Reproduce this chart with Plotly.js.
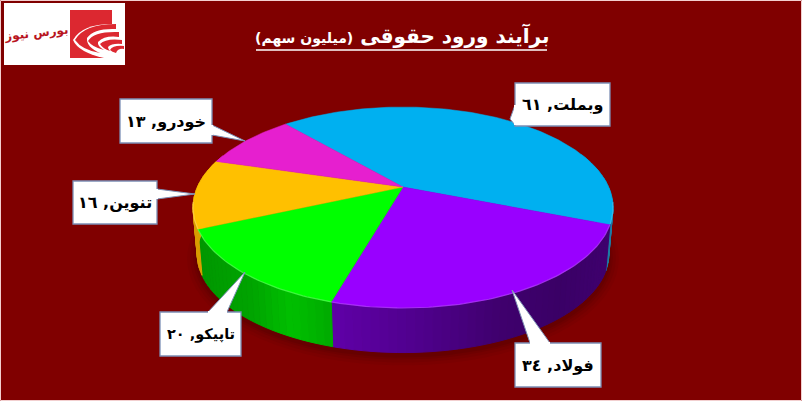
<!DOCTYPE html>
<html><head><meta charset="utf-8">
<script src="https://cdn.plot.ly/plotly-3.0.1.min.js"></script>
<style>html,body{margin:0;padding:0;background:#800000;overflow:hidden}</style>
</head><body><div id="chart" style="width:802px;height:401px"></div>
<script>
// Data
const names = ['وبملت','فولاد','تاپیکو','تنوین','خودرو'];
const values = [61,34,20,16,13];
const titleMain = 'برآیند ورود حقوقی';
const titleUnit = '(میلیون سهم)';
const logoText = 'بورس نیوز';

// Style
const topColors = ['#00b0f0','#9900ff','#00ff00','#ffc000','#e61fcf'];
const rimColors = ['#50c8f5','#b94dff','#66ff66','#ffd966','#f070e0'];
const labelSizes = [16,16,14.5,16,16];
const wallStops = [
  [[560,'#1a6a8c'],[620,'#1f7fa8']],
  [[335,'#5f00a6'],[420,'#4f008c'],[500,'#3f006e'],[560,'#3a0066'],[620,'#400070']],
  [[200,'#009800'],[250,'#00a400'],[290,'#00c000'],[335,'#00a800']],
  [[190,'#d89c00'],[210,'#e0a400']],
  [[190,'#c018a8'],[220,'#c018a8']]
];
const boxes = [
  {b:[515,83,610,126], t:[[515,105],[510,119],[515,125]]},
  {b:[515,343,601,387], t:[[530,343],[512,290],[550,343]]},
  {b:[160,312,241,356], t:[[208,312],[245,272],[227,312]]},
  {b:[73,181,157,224], t:[[157,189],[195,194],[157,199]]},
  {b:[120,99,212,143], t:[[212,125],[245,141],[212,135]]}
];
// perspective disc projection
const apex = {x:403,y:187}, A = 205.6, B = 96.3, K = 0.204, DEPTH = 47, SHRINK = 0.98;
const startDeg = 131.2;
function proj(deg){
  const t = deg*Math.PI/180, u = Math.cos(t), v = Math.sin(t), w = 1+K*v;
  return {dx:A*u/w, dy:-B*v/w, v};
}
const top_ = d => {const p=proj(d);return [apex.x+p.dx, apex.y+p.dy];};
const bot_ = d => {const p=proj(d);return [apex.x+p.dx*SHRINK, apex.y+p.dy*SHRINK+DEPTH];};
function hex(c){return [1,3,5].map(i=>parseInt(c.substr(i,2),16));}
function shade(stops,x){
  if(x<=stops[0][0])return stops[0][1];
  for(let i=1;i<stops.length;i++){ if(x<=stops[i][0]){
    const f=(x-stops[i-1][0])/(stops[i][0]-stops[i-1][0]),a=hex(stops[i-1][1]),b=hex(stops[i][1]);
    return 'rgb('+a.map((c,j)=>Math.round(c+(b[j]-c)*f)).join(',')+')';
  }}
  return stops[stops.length-1][1];
}
const total = values.reduce((a,b)=>a+b,0);
const traces = [];
const base = {type:'scatter',mode:'lines',hoverinfo:'skip',showlegend:false};
// soft shadow under the disc
[[10,0.07],[7,0.08],[4,0.10],[2,0.12]].forEach(([g,al])=>{
  const xs=[],ys=[];
  for(let d=0;d<=360;d+=4){const p=proj(d);xs.push(apex.x+p.dx*SHRINK*(1+g/205));ys.push(apex.y+p.dy*SHRINK*(1+g/120)+DEPTH+3);}
  traces.push({...base,x:xs,y:ys,fill:'toself',fillcolor:`rgba(50,0,0,${al})`,line:{width:0}});
});
// walls
let ang = startDeg;
const spans = values.map(val=>{const s=ang,e=ang-val/total*360;ang=e;return [s,e];});
spans.forEach(([s,e],i)=>{
  for(let d=s;d>e;d-=2){
    const n=Math.max(d-2,e), m=(d+n)/2;
    if(proj(m).v>0.35) continue;
    const a=top_(d),b=top_(n),c=bot_(n),f=bot_(d);
    const col=shade(wallStops[i],top_(m)[0]);
    traces.push({...base,x:[a[0],b[0],c[0],f[0],a[0]],y:[a[1],b[1],c[1],f[1],a[1]],fill:'toself',fillcolor:col,line:{width:1,color:col}});
  }
});
// top faces
spans.forEach(([s,e],i)=>{
  const xs=[apex.x],ys=[apex.y];
  for(let d=s;;d-=1){ const q=Math.max(d,e),p=top_(q);xs.push(p[0]);ys.push(p[1]);if(d<=e)break; }
  xs.push(apex.x);ys.push(apex.y);
  traces.push({...base,name:names[i],x:xs,y:ys,fill:'toself',fillcolor:topColors[i],line:{width:0.5,color:topColors[i]}});
});
// bevel highlight on the front rim
spans.forEach(([s,e],i)=>{
  const xs=[],ys=[];
  for(let d=s;d>=e;d-=1){ if(proj(d).v>-0.15) continue; const p=top_(d);xs.push(p[0]);ys.push(p[1]); }
  if(xs.length) traces.push({...base,x:xs,y:ys,line:{width:1.2,color:rimColors[i]},opacity:0.6});
});
// callouts
const edge='#7c8fb5';
const shapes=[{type:'rect',xref:'x',yref:'y',x0:0.5,y0:0.5,x1:801.5,y1:400.5,line:{color:'#f2cfcf',width:1},layer:'above'}];
const ann=[];
const ar=n=>String(n).replace(/\d/g,c=>'٠١٢٣٤٥٦٧٨٩'[+c]);
boxes.forEach((o,i)=>{
  const [x0,y0,x1,y1]=o.b;
  shapes.push({type:'rect',xref:'x',yref:'y',x0,y0,x1,y1,fillcolor:'#fff',line:{color:edge,width:1.3},layer:'above'});
  shapes.push({type:'path',xref:'x',yref:'y',layer:'above',fillcolor:'#fff',line:{color:edge,width:1},
    path:'M'+o.t.map(p=>p.join(' ')).join('L')});
  const [p0,,p2]=o.t;
  shapes.push({type:'line',xref:'x',yref:'y',x0:p0[0],y0:p0[1],x1:p2[0],y1:p2[1],line:{color:'#fff',width:2},layer:'above'});
  ann.push({xref:'x',yref:'y',x:(x0+x1)/2,y:(y0+y1)/2,showarrow:false,xanchor:'center',yanchor:'middle',
    text:'\u200F'+names[i]+', '+ar(values[i]),font:{family:'DejaVu Sans',size:labelSizes[i],color:'#000',weight:700}});
});
// logo
shapes.push({type:'rect',xref:'x',yref:'y',x0:4,y0:3,x1:125,y1:65,fillcolor:'#fff',line:{width:0},layer:'above'});
shapes.push({type:'rect',xref:'x',yref:'y',x0:70,y0:10,x1:112,y1:58,fillcolor:'#dc2830',line:{width:0},layer:'above'});
[
 ['M112 24 Q82 24 73 40 Q78 52 104 58 L124 60 L124 24 Z','#fff'],
 ['M75 40 Q84 24 116 24 L116 29 Q94 28 87 38 Q86 47 100 53 Q82 50 75 40 Z','#dc2830'],
 ['M88 41 Q94 31 119 32 L119 37 Q105 35 98 42 Q97 46 104 50 Q92 47 88 41 Z','#dc2830'],
 ['M100 44 Q106 38 122 40 L122 44 Q112 43 108 47 Q108 49 110 51 Q103 49 100 44 Z','#dc2830'],
 ['M110 50 Q113 45 124 46 L124 49 Q118 48 116 53 Q112 52 110 50 Z','#dc2830']
].forEach(([path,c])=>shapes.push({type:'path',xref:'x',yref:'y',path,fillcolor:c,line:{width:0},layer:'above'}));
ann.push({xref:'x',yref:'y',x:36,y:33,showarrow:false,text:logoText,textangle:-6,
  font:{family:'DejaVu Sans',size:12,color:'#b8141e',weight:700}});
// title underline
shapes.push({type:'line',xref:'x',yref:'y',x0:256,x1:547,y0:50,y1:50,line:{color:'#fff',width:1.5},layer:'above'});
// title
ann.push({xref:'x',yref:'y',x:401.5,y:35,showarrow:false,xanchor:'center',yanchor:'middle',
  text:'<b>'+titleMain+' <span style="font-size:14px">'+titleUnit+'</span></b>',
  font:{family:'DejaVu Sans',size:20,color:'#fff',weight:700}});

Plotly.newPlot('chart',traces,{
  width:802,height:401,margin:{l:0,r:0,t:0,b:0},
  paper_bgcolor:'#800000',plot_bgcolor:'#800000',showlegend:false,
  xaxis:{range:[0,802],visible:false,fixedrange:true},
  yaxis:{range:[401,0],visible:false,fixedrange:true},
  shapes,annotations:ann
},{displayModeBar:false,staticPlot:true});
</script></body></html>
